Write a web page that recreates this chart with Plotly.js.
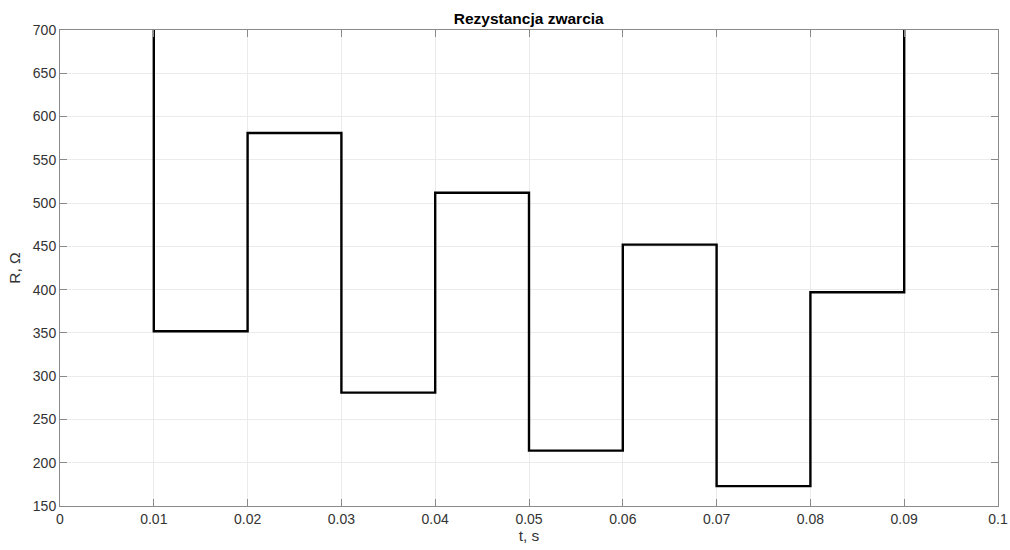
<!DOCTYPE html>
<html>
<head>
<meta charset="utf-8">
<script src="https://cdn.plot.ly/plotly-3.0.1.min.js"></script>
<style>html,body{margin:0;padding:0;background:#fff;}#chart{width:1010px;height:550px;}</style>
</head>
<body>
<div id="chart"></div>
<script>
// Step start times (s) and resistance values (Ohm) held until next step
const stepTimes = [0, 0.01, 0.02, 0.03, 0.04, 0.05, 0.06, 0.07, 0.08, 0.09, 0.1];
const resistance = [1000, 352, 581, 281, 512, 214, 452, 173, 397, 1000, 1000];
const xTickVals = [0, 0.01, 0.02, 0.03, 0.04, 0.05, 0.06, 0.07, 0.08, 0.09, 0.1];
const xTickText = ["0", "0.01", "0.02", "0.03", "0.04", "0.05", "0.06", "0.07", "0.08", "0.09", "0.1"];
const yTickVals = [150, 200, 250, 300, 350, 400, 450, 500, 550, 600, 650, 700];

const FONT = 'Liberation Sans, Arial, sans-serif';
const axisCommon = {
  showline: true, linecolor: '#8a8a8a', linewidth: 1, mirror: 'ticks',
  ticks: 'inside', ticklen: 7, tickcolor: '#8a8a8a', tickwidth: 1,
  showgrid: true, gridcolor: '#ebebeb', gridwidth: 1, zeroline: false,
  automargin: false,
  tickfont: {family: FONT, size: 14, color: '#333'}
};

Plotly.newPlot('chart', [{
  x: stepTimes, y: resistance, type: 'scatter', mode: 'lines',
  line: {shape: 'hv', color: '#000', width: 2.4},
  hoverinfo: 'x+y'
}], {
  width: 1010, height: 550,
  margin: {l: 60, r: 12, t: 30, b: 44},
  paper_bgcolor: '#fff', plot_bgcolor: '#fff',
  showlegend: false,
  title: {text: '<b>Rezystancja zwarcia</b>', x: 0.5235, xanchor: 'center', y: 0.967, yanchor: 'middle',
          font: {family: FONT, size: 15.5, color: '#000'}},
  xaxis: Object.assign({}, axisCommon, {
    range: [0, 0.1], tickvals: xTickVals, ticktext: xTickText,
    title: {text: 't, s', standoff: 2, font: {family: FONT, size: 15.5, color: '#333'}}
  }),
  yaxis: Object.assign({}, axisCommon, {
    range: [150, 700], tickvals: yTickVals,
    title: {text: 'R, Ω', standoff: 8, font: {family: FONT, size: 15.5, color: '#333'}}
  })
}, {displayModeBar: false, staticPlot: true});
</script>
</body>
</html>
